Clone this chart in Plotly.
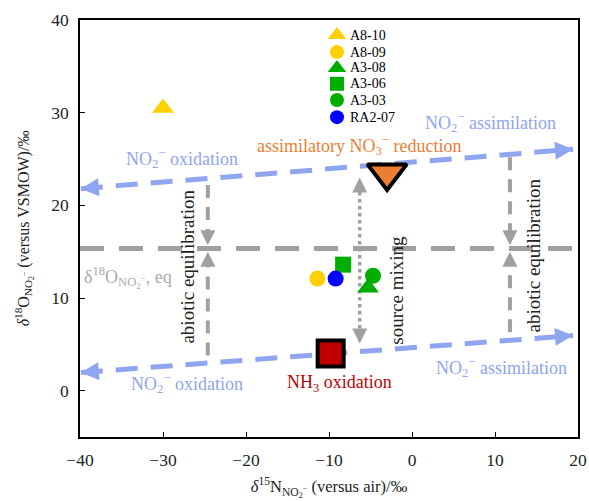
import plotly.graph_objects as go

# ---- data ----
sample_names = ["A8-10", "A8-09", "A3-08", "A3-06", "A3-03", "RA2-07"]
sample_d15N = [-30.0, -11.4, -5.3, -8.3, -4.7, -9.2]
sample_d18O = [30.5, 12.1, 11.1, 13.6, 12.4, 12.1]
sample_symbols = ["triangle-up", "circle", "triangle-up", "square", "circle", "circle"]
sample_colors = ["#FFD000", "#FFD000", "#00AE00", "#00AE00", "#00AE00", "#0000FF"]
sample_sizes = [19, 16, 19, 16, 16, 16]

source_names = ["NH3 oxidation", "assimilatory NO3- reduction"]
source_d15N = [-9.8, -3.0]
source_d18O = [4.0, 23.5]

# process lines (endpoints)
upper_line_x = [-39.9, 19.4]
upper_line_y = [21.8, 26.05]
lower_line_x = [-39.9, 19.4]
lower_line_y = [1.95, 5.95]
eq_level = 15.35
abiotic_x = [-24.6, 11.8]
abiotic_top = [22.2, 25.2]
abiotic_bottom = [3.8, 6.3]
mixing_x = -6.3
mixing_y = [23.0, 5.1]

# legend layout (paper fractions)
legend_marker_x = 0.516
legend_text_x = 0.539
legend_y = [0.964, 0.923, 0.885, 0.847, 0.808, 0.767]

BLUE = "#8FA5F0"
GRAY = "#A0A0A0"
FONT = "Liberation Serif, Times New Roman, serif"

fig = go.Figure()

fig.add_trace(go.Scatter(x=[-40, 20], y=[eq_level, eq_level], mode="lines",
                         line=dict(color=GRAY, width=5, dash="24px,15px"),
                         showlegend=False, hoverinfo="skip"))

for lx, ly in [(upper_line_x, upper_line_y), (lower_line_x, lower_line_y)]:
    fig.add_trace(go.Scatter(x=lx, y=ly, mode="lines",
                             line=dict(color=BLUE, width=5, dash="22px,13px"),
                             showlegend=False, hoverinfo="skip"))

gap = 0.7
for ax_, top, bot in zip(abiotic_x, abiotic_top, abiotic_bottom):
    fig.add_trace(go.Scatter(x=[ax_, ax_], y=[top, eq_level + gap + 0.3], mode="lines",
                             line=dict(color=GRAY, width=4, dash="13px,9px"),
                             showlegend=False, hoverinfo="skip"))
    fig.add_trace(go.Scatter(x=[ax_, ax_], y=[bot, eq_level - gap - 0.3], mode="lines",
                             line=dict(color=GRAY, width=4, dash="13px,9px"),
                             showlegend=False, hoverinfo="skip"))

fig.add_trace(go.Scatter(x=[mixing_x, mixing_x], y=[mixing_y[0] - 0.8, mixing_y[1] + 0.8], mode="lines",
                         line=dict(color=GRAY, width=3.5, dash="dot"),
                         showlegend=False, hoverinfo="skip"))

for n, x, y, s, c, sz in zip(sample_names, sample_d15N, sample_d18O, sample_symbols, sample_colors, sample_sizes):
    fig.add_trace(go.Scatter(x=[x], y=[y], mode="markers", name=n, showlegend=False,
                             marker=dict(symbol=s, color=c, size=sz, opacity=1, line=dict(width=0))))

fig.add_trace(go.Scatter(x=[source_d15N[0]], y=[source_d18O[0]], mode="markers", showlegend=False,
                         marker=dict(symbol="square", color="#C00000", size=26, opacity=1,
                                     line=dict(color="black", width=4))))
fig.add_trace(go.Scatter(x=[source_d15N[1]], y=[source_d18O[1]], mode="markers", showlegend=False,
                         marker=dict(symbol="triangle-down", color="#ED7D31", size=34, opacity=1,
                                     line=dict(color="black", width=4))))

fig.add_trace(go.Scatter(x=[legend_marker_x] * len(sample_names), y=legend_y, mode="markers",
                         xaxis="x2", yaxis="y2", showlegend=False, hoverinfo="skip",
                         marker=dict(symbol=sample_symbols, color=sample_colors, opacity=1,
                                     size=[16, 14, 16, 14, 14, 14], line=dict(width=0))))

ann = []
def arrow(x, y, x0, y0, color, width, size):
    ann.append(dict(x=x, y=y, ax=x0, ay=y0, xref="x", yref="y", axref="x", ayref="y",
                    text="", showarrow=True, arrowhead=2, arrowsize=size,
                    arrowwidth=width, arrowcolor=color))

for lx, ly in [(upper_line_x, upper_line_y), (lower_line_x, lower_line_y)]:
    dx = lx[1] - lx[0]; dy = ly[1] - ly[0]
    arrow(lx[0], ly[0], lx[0] + 0.03 * dx, ly[0] + 0.03 * dy, BLUE, 4, 0.9)
    arrow(lx[1], ly[1], lx[1] - 0.03 * dx, ly[1] - 0.03 * dy, BLUE, 4, 0.9)

for ax_ in abiotic_x:
    arrow(ax_, eq_level + 0.35, ax_, eq_level + 1.8, GRAY, 3, 1.0)
    arrow(ax_, eq_level - 0.35, ax_, eq_level - 1.8, GRAY, 3, 1.0)
arrow(mixing_x, mixing_y[0], mixing_x, mixing_y[0] - 1.5, GRAY, 3, 1.0)
arrow(mixing_x, mixing_y[1], mixing_x, mixing_y[1] + 1.5, GRAY, 3, 1.0)

def label(x, y, t, color, size=18, angle=0):
    ann.append(dict(x=x, y=y, xref="x", yref="y", text=t, showarrow=False,
                    font=dict(family=FONT, size=size, color=color), textangle=angle))

label(-27.7, 25.1, "NO<sub>2</sub><sup>−</sup> oxidation", BLUE)
label(9.4, 28.9, "NO<sub>2</sub><sup>−</sup> assimilation", BLUE)
label(-27.1, 0.76, "NO<sub>2</sub><sup>−</sup> oxidation", BLUE)
label(10.8, 2.5, "NO<sub>2</sub><sup>−</sup> assimilation", BLUE)
label(-8.7, 0.76, "NH<sub>3</sub> oxidation", "#C00000")
label(-6.4, 26.5, "assimilatory NO<sub>3</sub><sup>−</sup> reduction", "#ED7D31")
label(-34.2, 12.2, "δ<sup>18</sup>O<sub>NO<sub>2</sub><sup>−</sup></sub>, eq", "#AAAAAA")
label(-27.1, 13.4, "abiotic equilibration", "#222222", 19, -90)
label(14.6, 14.6, "abiotic equilibration", "#222222", 19, -90)
label(-1.8, 10.8, "source mixing", "#222222", 19, -90)

for n, y in zip(sample_names, legend_y):
    ann.append(dict(x=legend_text_x, y=y, xref="paper", yref="paper", text=n,
                    showarrow=False, xanchor="left", yanchor="middle",
                    font=dict(family=FONT, size=14, color="black")))

fig.update_layout(
    width=589, height=501,
    margin=dict(l=80, r=11, t=20, b=64, autoexpand=False),
    paper_bgcolor="white", plot_bgcolor="white",
    font=dict(family=FONT, size=17.5, color="#222222"),
    annotations=ann,
    showlegend=False,
    xaxis=dict(range=[-40, 20], dtick=10, showgrid=False, zeroline=False,
               showline=True, linecolor="black", linewidth=1.5, mirror=True,
               ticks="inside", ticklen=5, tickcolor="black", automargin=False,
               ticklabelstandoff=6,
               title=dict(text="<i>δ</i><sup>15</sup>N<sub>NO<sub>2</sub><sup>−</sup></sub> (versus air)/‰",
                          font=dict(size=16.5), standoff=12)),
    yaxis=dict(range=[-5, 40], dtick=10, showgrid=False, zeroline=False,
               showline=True, linecolor="black", linewidth=1.5, mirror=True,
               ticks="inside", ticklen=5, tickcolor="black", automargin=False,
               ticklabelstandoff=6,
               title=dict(text="<i>δ</i><sup>18</sup>O<sub>NO<sub>2</sub><sup>−</sup></sub> (versus VSMOW)/‰",
                          font=dict(size=16), standoff=18)),
    xaxis2=dict(range=[0, 1], overlaying="x", visible=False, fixedrange=True),
    yaxis2=dict(range=[0, 1], overlaying="y", visible=False, fixedrange=True),
)

fig.write_html("out.html", config={"displayModeBar": False},
               post_script="document.body.style.margin='0px';document.body.style.overflow='hidden';")
